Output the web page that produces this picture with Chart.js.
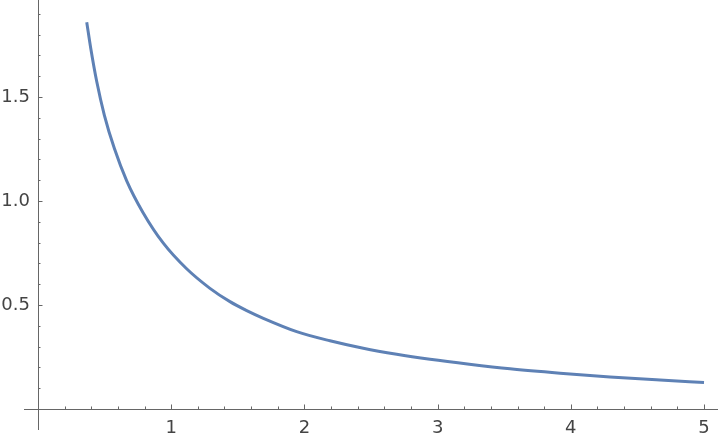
<!DOCTYPE html>
<html>
<head>
<meta charset="utf-8">
<script src="https://cdn.jsdelivr.net/npm/chart.js@4"></script>
<style>
  html, body { margin: 0; padding: 0; background: #fff; }
  #wrap { width: 720px; height: 440px; }
</style>
</head>
<body>
<div id="wrap"><canvas id="plot" width="720" height="440"></canvas></div>
<script>
// curve samples
const xValues = [0.366, 0.396, 0.441, 0.498, 0.573, 0.666, 0.788, 0.941, 1.116, 1.291,
  1.441, 1.567, 1.692, 1.942, 2.192, 2.442, 2.693, 2.943, 3.238, 3.544,
  3.919, 4.294, 4.670, 5.0];
const yValues = [1.859, 1.734, 1.574, 1.413, 1.253, 1.097, 0.945, 0.797, 0.674, 0.580,
  0.516, 0.473, 0.436, 0.372, 0.328, 0.292, 0.263, 0.239, 0.215, 0.193,
  0.172, 0.154, 0.139, 0.127];

const xTicks = [1, 2, 3, 4, 5];
const yTicks = [0.5, 1.0, 1.5];
const xMinorStep = 0.2;
const yMinorStep = 0.1;

const axisColor = '#666666';
const labelColor = '#444444';
const labelFont = '18px "DejaVu Sans"';

const axesPlugin = {
  id: 'mmaAxes',
  beforeDatasetsDraw(chart) {
    const ctx = chart.ctx;
    const xs = chart.scales.x;
    const ys = chart.scales.y;
    const x0 = xs.getPixelForValue(0);
    const y0 = ys.getPixelForValue(0);

    ctx.save();
    ctx.strokeStyle = axisColor;
    ctx.lineWidth = 1;

    // axis lines
    ctx.beginPath();
    ctx.moveTo(xs.left, Math.round(y0) + 0.5);
    ctx.lineTo(xs.right, Math.round(y0) + 0.5);
    ctx.moveTo(Math.round(x0) + 0.5, ys.top);
    ctx.lineTo(Math.round(x0) + 0.5, ys.bottom);
    ctx.stroke();

    // x ticks
    ctx.beginPath();
    for (let i = 1; i * xMinorStep <= xs.max + 1e-9; i++) {
      const v = i * xMinorStep;
      const major = Math.abs(v - Math.round(v)) < 1e-6;
      const px = Math.round(xs.getPixelForValue(v)) + 0.5;
      ctx.moveTo(px, y0);
      ctx.lineTo(px, y0 - (major ? 4.5 : 2.5));
    }
    // y ticks
    for (let i = 1; i * yMinorStep <= ys.max + 1e-9; i++) {
      const v = i * yMinorStep;
      const major = Math.abs(v * 2 - Math.round(v * 2)) < 1e-6;
      const py = Math.round(ys.getPixelForValue(v)) + 0.5;
      ctx.moveTo(x0, py);
      ctx.lineTo(x0 + (major ? 4.5 : 2.5), py);
    }
    ctx.stroke();

    // labels
    ctx.fillStyle = labelColor;
    ctx.font = labelFont;
    ctx.textAlign = 'center';
    ctx.textBaseline = 'middle';
    xTicks.forEach(v => {
      ctx.fillText(String(v), xs.getPixelForValue(v), y0 + 19);
    });
    ctx.textAlign = 'right';
    yTicks.forEach(v => {
      ctx.fillText(v.toFixed(1), x0 - 8, ys.getPixelForValue(v));
    });
    ctx.restore();
  }
};

new Chart(
  document.getElementById('plot'),
  {
    type: 'line',

    data: {
      datasets: [{
        data: xValues.map((x, i) => ({ x: x, y: yValues[i] })),
        borderColor: '#5e81b5',
        borderWidth: 3,
        pointRadius: 0,
        fill: false,
        cubicInterpolationMode: 'monotone'
      }]
    },

    options: {
      responsive: false,
      animation: false,
      layout: {
        padding: { left: 24, right: 2, top: 0, bottom: 10 }
      },
      plugins: {
        legend: { display: false },
        tooltip: { enabled: false }
      },
      scales: {
        x: {
          type: 'linear',
          display: false,
          min: -0.105,
          max: 5.105
        },
        y: {
          type: 'linear',
          display: false,
          min: -0.101,
          max: 1.966
        }
      }
    },

    plugins: [axesPlugin]
  }
);
</script>
</body>
</html>
